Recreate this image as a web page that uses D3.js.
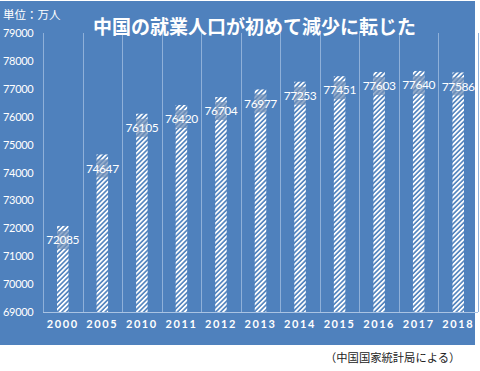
<!DOCTYPE html>
<html><head><meta charset="utf-8">
<script src="https://cdn.jsdelivr.net/npm/d3@7"></script>
<style>html,body{margin:0;padding:0;background:#fff;}svg{display:block;}</style>
</head><body>
<svg id="c" width="480" height="371"></svg>
<script>
const years = ["2000","2005","2010","2011","2012","2013","2014","2015","2016","2017","2018"];
const employed = [72085,74647,76105,76420,76704,76977,77253,77451,77603,77640,77586];
const yTicks = [69000,70000,71000,72000,73000,74000,75000,76000,77000,78000,79000];
const title = "中国の就業人口が初めて減少に転じた";
const unitLabel = "単位：万人";
const source = "（中国国家統計局による）";

const svg = d3.select("#c");
const BLUE = "#4f81bd";
const jp = "'Noto Sans CJK JP','Noto Sans',sans-serif";
const num = "Lato,'Liberation Sans',sans-serif";

const defs = svg.append("defs");
const pat = defs.append("pattern").attr("id","hatch").attr("patternUnits","userSpaceOnUse")
  .attr("width",3.4).attr("height",3.4).attr("patternTransform","rotate(45)");
pat.append("rect").attr("width",3.4).attr("height",3.4).attr("fill",BLUE);
pat.append("rect").attr("x",0).attr("width",1.8).attr("height",3.4).attr("fill","#ffffff");

svg.append("rect").attr("x",0).attr("y",1).attr("width",475).attr("height",344).attr("fill",BLUE);

const x = d3.scaleBand().domain(years).range([43,478]).padding(0);
const y = d3.scaleLinear().domain([69000,79000]).range([312,33]);

// vertical gridlines at band boundaries
const bounds = years.map(d=>x(d)).concat([x(years[years.length-1])+x.bandwidth()]);
svg.append("g").selectAll("line").data(bounds).join("line")
  .attr("x1",d=>Math.round(d)+0.5).attr("x2",d=>Math.round(d)+0.5).attr("y1",y(79000)).attr("y2",y(69000))
  .attr("stroke","#8fb0d9").attr("stroke-width",1);
svg.append("line").attr("x1",43).attr("x2",478).attr("y1",y(69000)+0.5).attr("y2",y(69000)+0.5)
  .attr("stroke","#a9c3e3").attr("stroke-width",1);

// y axis labels
const yAxis = d3.axisLeft(y).tickValues(yTicks).tickSize(0).tickPadding(0).tickFormat(d3.format("d"));
const gy = svg.append("g").attr("transform","translate(3,0)").call(yAxis);
gy.select(".domain").remove();
gy.selectAll("text").attr("text-anchor","start").attr("fill","#fff").attr("font-family",num)
  .attr("font-size",11).attr("letter-spacing","-0.3px");

// x axis labels
const xAxis = d3.axisBottom(x).tickSize(0).tickPadding(0);
const gx = svg.append("g").attr("transform","translate(0,320)").call(xAxis);
gx.select(".domain").remove();
gx.selectAll("text").attr("fill","#fff").attr("font-family",num).attr("font-weight","bold")
  .attr("font-size",11).attr("letter-spacing","1.6px").attr("dy","0.75em");

// bars
const bw = 11.5;
const data = years.map((d,i)=>({year:d,v:employed[i]}));
svg.append("g").selectAll("rect").data(data).join("rect")
  .attr("x",d=>x(d.year)+x.bandwidth()/2-bw/2).attr("width",bw)
  .attr("y",d=>y(d.v)).attr("height",d=>y(69000)-y(d.v))
  .attr("fill","url(#hatch)");

// label boxes
svg.append("g").selectAll("rect").data(data).join("rect")
  .attr("x",d=>x(d.year)+x.bandwidth()/2-bw/2).attr("width",bw)
  .attr("y",d=>y(d.v)+5).attr("height",18)
  .attr("fill","#6f8fb8").attr("opacity",0.75);

svg.append("g").selectAll("text").data(data).join("text")
  .attr("x",d=>x(d.year)+x.bandwidth()/2).attr("y",d=>y(d.v)+14)
  .attr("dy","0.35em").attr("text-anchor","middle")
  .attr("fill","#fff").attr("font-family",num).attr("font-size",12).attr("letter-spacing","-0.4px")
  .text(d=>d.v);

// title
svg.append("text").attr("x",93).attr("y",27).attr("dy","0.36em")
  .attr("fill","#fff").attr("font-family",jp).attr("font-weight","bold").attr("font-size",19)
  .text(title);
svg.append("text").attr("x",3).attr("y",15).attr("dy","0.36em")
  .attr("fill","#fff").attr("font-family",jp).attr("font-size",11.5)
  .text(unitLabel);

svg.append("text").attr("x",325).attr("y",358).attr("dy","0.36em")
  .attr("fill","#222").attr("font-family",jp).attr("font-size",11.3)
  .text(source);
</script>
</body></html>
